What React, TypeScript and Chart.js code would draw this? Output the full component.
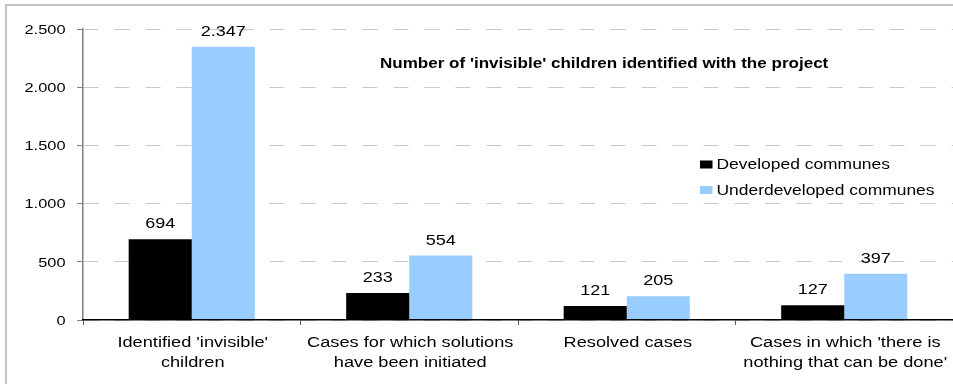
import React, { useEffect, useRef } from "react";
import { Chart, registerables } from "chart.js";

Chart.register(...registerables);

// Categories (multi-line labels as arrays)
const categories: (string | string[])[] = [
  ["Identified 'invisible'", "children"],
  ["Cases for which solutions", "have been initiated"],
  "Resolved cases",
  ["Cases in which 'there is", "nothing that can be done'"],
];

// Series values
const developed = [694, 233, 121, 127];
const underdeveloped = [2347, 554, 205, 397];

const seriesNames = ["Developed communes", "Underdeveloped communes"];
const seriesColors = ["#000000", "#99ccff"];

// Value axis ticks
const yTicks = [0, 500, 1000, 1500, 2000, 2500];

const chartTitle = "Number of 'invisible' children identified with the project";

const FONT = "'Liberation Sans', Arial, Helvetica, sans-serif";

// Dot as thousands separator: 2347 -> "2.347"
const fmt = (n: number) => String(n).replace(/\B(?=(\d{3})+(?!\d))/g, ".");

// Text drawn with a wide horizontal aspect
function drawText(
  ctx: CanvasRenderingContext2D,
  text: string,
  x: number,
  y: number,
  align: CanvasTextAlign,
  sx: number,
  font: string
) {
  ctx.save();
  ctx.font = font;
  ctx.fillStyle = "#000";
  ctx.textAlign = align;
  ctx.textBaseline = "alphabetic";
  ctx.translate(x, y);
  ctx.scale(sx, 1);
  ctx.fillText(text, 0, 0);
  ctx.restore();
}

const framePlugin = {
  id: "frame",
  beforeDraw(chart: any) {
    const ctx = chart.ctx;
    ctx.save();
    ctx.fillStyle = "#ffffff";
    ctx.fillRect(0, 0, chart.width, chart.height);
    ctx.fillStyle = "#c4c4c4";
    ctx.fillRect(5, 4, chart.width - 5, 2);
    ctx.fillRect(5, 4, 2, chart.height - 4);
    ctx.restore();
  },
};

const valueLabelPlugin = {
  id: "valueLabels",
  afterDatasetsDraw(chart: any) {
    const ctx = chart.ctx;
    chart.data.datasets.forEach((ds: any, i: number) => {
      const meta = chart.getDatasetMeta(i);
      meta.data.forEach((bar: any, j: number) => {
        drawText(ctx, fmt(ds.data[j]), bar.x, bar.y - 11, "center", 1.29, `14px ${FONT}`);
      });
    });
  },
};

const textPlugin = {
  id: "axisText",
  afterDraw(chart: any) {
    const ctx = chart.ctx;

    // value axis labels
    const ys = chart.scales.y;
    ys.ticks.forEach((t: any) => {
      const py = ys.getPixelForValue(t.value);
      drawText(ctx, fmt(t.value), 65.5, py + 4.7, "right", 1.26, `13px ${FONT}`);
    });

    // category labels
    const xs = chart.scales.x;
    (chart.data.labels as (string | string[])[]).forEach((lab, i) => {
      const px = xs.getPixelForTick(i);
      const lines = Array.isArray(lab) ? lab : [lab];
      lines.forEach((ln, k) => {
        drawText(ctx, ln, px + 1, 346.6 + k * 20, "center", 1.3, `14px ${FONT}`);
      });
    });

    // title inside the plot
    drawText(ctx, chartTitle, 380, 68.3, "left", 1.217, `bold 14px ${FONT}`);

    // legend
    chart.data.datasets.forEach((ds: any, i: number) => {
      const top = 160.5 + i * 25.5;
      ctx.save();
      ctx.fillStyle = ds.backgroundColor;
      ctx.fillRect(700, top, 12.5, 8);
      ctx.restore();
      drawText(ctx, ds.label, 716.5, 169 + i * 25.5, "left", 1.245, `14px ${FONT}`);
    });
  },
};

export default function App() {
  const canvasRef = useRef<HTMLCanvasElement | null>(null);

  useEffect(() => {
    if (!canvasRef.current) return;
    const chart = new Chart(canvasRef.current, {
      type: "bar",
      data: {
        labels: categories,
        datasets: [
          {
            label: seriesNames[0],
            data: developed,
            backgroundColor: seriesColors[0],
            borderWidth: 0,
            categoryPercentage: 0.58,
            barPercentage: 1,
          },
          {
            label: seriesNames[1],
            data: underdeveloped,
            backgroundColor: seriesColors[1],
            borderWidth: 0,
            categoryPercentage: 0.58,
            barPercentage: 1,
          },
        ],
      },
      options: {
        responsive: false,
        animation: false,
        devicePixelRatio: 1,
        layout: { padding: { top: 29, left: 0, right: 0, bottom: 0 } },
        plugins: {
          legend: { display: false },
          title: { display: false },
          tooltip: { enabled: false },
        },
        scales: {
          x: {
            afterFit: (s: any) => {
              s.height = 64;
            },
            border: { display: true, color: "#000", width: 1.5, z: 1 },
            grid: {
              drawOnChartArea: false,
              drawTicks: true,
              tickLength: 5,
              tickColor: "#555",
              offset: true,
            },
            ticks: { display: false, autoSkip: false, maxRotation: 0 },
          },
          y: {
            min: 0,
            max: 2500,
            afterBuildTicks: (s: any) => {
              s.ticks = yTicks.map((v) => ({ value: v }));
            },
            afterFit: (s: any) => {
              s.width = 83;
            },
            border: { display: true, color: "#808080", width: 1.5, dash: [15, 16] },
            grid: {
              color: "#c8c8c8",
              lineWidth: 1,
              drawTicks: true,
              tickLength: 6,
              tickColor: "#808080",
              tickBorderDash: [],
            },
            ticks: { display: false },
          },
        },
      },
      plugins: [framePlugin, valueLabelPlugin, textPlugin],
    });
    return () => chart.destroy();
  }, []);

  return (
    <div style={{ position: "fixed", left: 0, top: 0, width: 953, height: 384, background: "#fff" }}>
      <canvas ref={canvasRef} width={953} height={384} style={{ display: "block" }} />
    </div>
  );
}
